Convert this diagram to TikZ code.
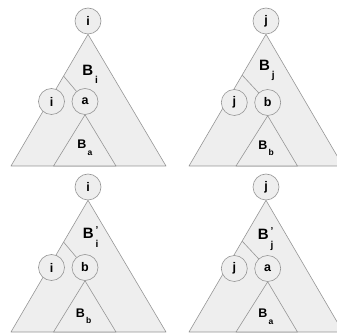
\documentclass[tikz,border=0pt]{standalone}
\usepackage{fontspec}
\setmainfont{Liberation Sans}
\definecolor{treefill}{RGB}{238,238,238}
\definecolor{treeline}{RGB}{150,150,150}
\usetikzlibrary{calc}

\newcommand{\treelbl}[1]{B\rlap{\kern2pt\smash{\raisebox{-8pt}{\fontsize{10}{10}\selectfont #1}}}}
\newcommand{\treelblp}[1]{B\rlap{\kern2pt\smash{\raisebox{5pt}{\fontsize{10}{10}\selectfont\textquoteright}}}%
  \rlap{\kern2pt\smash{\raisebox{-9pt}{\fontsize{10}{10}\selectfont #1}}}}
\newcommand{\treelbls}[1]{B\rlap{\kern1pt\smash{\raisebox{-6.5pt}{\fontsize{8.5}{8.5}\selectfont #1}}}}

\begin{document}
\begin{tikzpicture}[x=1pt,y=-1pt,
    vtx/.style={circle,draw=treeline,fill=treefill,line width=0.6pt,
                minimum size=26pt,inner sep=0pt,
                font=\bfseries\fontsize{12.5}{12.5}\selectfont},
    tri/.style={draw=treeline,fill=treefill,line width=0.6pt,line join=round},
    branch/.style={draw=treeline,line width=0.6pt},
    lblbig/.style={anchor=base,inner sep=0pt,font=\bfseries\fontsize{15}{15}\selectfont},
    lblsmall/.style={anchor=base,inner sep=0pt,font=\bfseries\fontsize{12.5}{12.5}\selectfont}]
  \clip (0,0) rectangle (337,336);

  % top left: B_i with child a
  \node[vtx] (ti1) at (88,21) {i};
  \draw[tri] (ti1.south) -- (11,166) -- (166,166) -- cycle;
  \coordinate (br1) at (63.5,76);
  \node[vtx] (li1) at (51.5,101.5) {i};
  \node[vtx] (ca1) at (85,101.5) {a};
  \draw[branch] (br1) -- (ca1);
  \draw[tri] (ca1.south) -- (53.5,166) -- (116,166) -- cycle;
  \node[lblbig] (Bi1) at (87.7,75.7) {\treelbl{i}};
  \node[lblsmall] (Ba1) at (82,149) {\treelbls{a}};

  % top right: B_j with child b
  \node[vtx] (tj1) at (266,21) {j};
  \draw[tri] (tj1.south) -- (189,166) -- (343,166) -- cycle;
  \coordinate (br2) at (242,75);
  \node[vtx] (lj1) at (234.3,102.5) {j};
  \node[vtx] (cb1) at (267.7,102.5) {b};
  \draw[branch] (br2) -- (cb1);
  \draw[tri] (cb1.south) -- (236,166) -- (297.5,166) -- cycle;
  \node[lblbig] (Bj1) at (264.5,71) {\treelbl{j}};
  \node[lblsmall] (Bb1) at (263,149.5) {\treelbls{b}};

  \begin{scope}[shift={(0,166)}]
    % bottom left: B'_i with child b
    \node[vtx] (ti2) at (88,21) {i};
    \draw[tri] (ti2.south) -- (11,166) -- (166,166) -- cycle;
    \coordinate (br3) at (63.5,76);
    \node[vtx] (li2) at (51.5,101.5) {i};
    \node[vtx] (cb2) at (85,101.5) {b};
    \draw[branch] (br3) -- (cb2);
    \draw[tri] (cb2.south) -- (53.5,166) -- (116,166) -- cycle;
    \node[lblbig] (Bi2) at (88.3,73) {\treelblp{i}};
    \node[lblsmall] (Bb2) at (80.5,151) {\treelbls{b}};

    % bottom right: B'_j with child a
    \node[vtx] (tj2) at (266,21) {j};
    \draw[tri] (tj2.south) -- (189,166) -- (343,166) -- cycle;
    \coordinate (br4) at (242,75);
    \node[vtx] (lj2) at (234.3,102.5) {j};
    \node[vtx] (ca2) at (267.7,102.5) {a};
    \draw[branch] (br4) -- (ca2);
    \draw[tri] (ca2.south) -- (236,166) -- (297.5,166) -- cycle;
    \node[lblbig] (Bj2) at (263.3,74) {\treelblp{j}};
    \node[lblsmall] (Ba2) at (263,151.5) {\treelbls{a}};
  \end{scope}
\end{tikzpicture}
\end{document}
